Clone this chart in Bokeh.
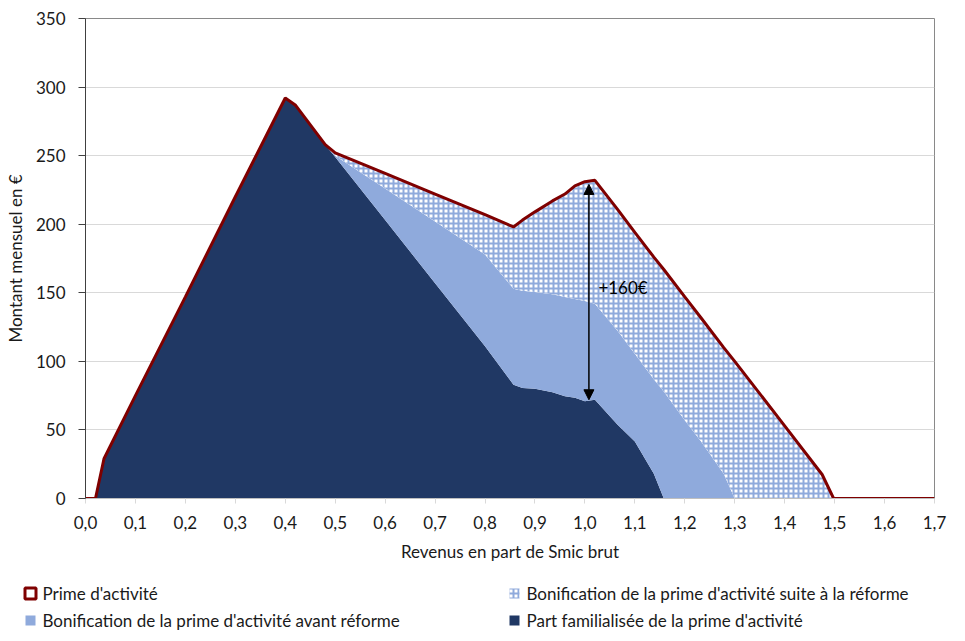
from bokeh.plotting import figure
from bokeh.layouts import column
from bokeh.models import Range1d, FixedTicker, Arrow, NormalHead, Label
from bokeh.core.properties import value
from bokeh.embed import file_html
from bokeh.resources import INLINE

# ---- data ----
revenu = [0.0, 0.02, 0.037, 0.1, 0.2, 0.3, 0.4, 0.42, 0.48, 0.5, 0.6, 0.7, 0.8, 0.857, 0.875,
          0.9, 0.935, 0.96, 0.98, 1.0, 1.02, 1.065, 1.1, 1.138, 1.158, 1.2, 1.232, 1.278,
          1.3, 1.4, 1.475, 1.498, 1.6, 1.7]
prime_activite = [0, 0, 29, 75, 147, 220, 292, 287, 258, 252, 237, 222, 207, 198, 203,
                  209, 217, 222, 228, 231, 232, 211, 194, 176, 167, 147, 132, 110,
                  100, 53, 17.5, 0, 0, 0]
avant_reforme = [0, 0, 29, 75, 147, 220, 292, 287, 258, 250, 226, 202, 178, 153, 151.5,
                 150.5, 149, 147, 145.5, 144, 142, 122.5, 105.5, 87, 78, 57, 42, 18,
                 0, 0, 0, 0, 0, 0]
part_familialisee = [0, 0, 29, 75, 147, 220, 292, 287, 258, 249, 203, 157, 111, 83, 80.5,
                     80, 77.5, 74.5, 73.5, 71, 72, 54, 41.5, 18, 0, 0, 0, 0,
                     0, 0, 0, 0, 0, 0]

x_ticks = [0.0, 0.1, 0.2, 0.3, 0.4, 0.5, 0.6, 0.7, 0.8, 0.9, 1.0, 1.1, 1.2, 1.3, 1.4, 1.5, 1.6, 1.7]
x_labels = ["0,0", "0,1", "0,2", "0,3", "0,4", "0,5", "0,6", "0,7", "0,8", "0,9",
            "1,0", "1,1", "1,2", "1,3", "1,4", "1,5", "1,6", "1,7"]
y_ticks = [0, 50, 100, 150, 200, 250, 300, 350]

legend_labels = ["Prime d'activité",
                 "Bonification de la prime d'activité suite à la réforme",
                 "Bonification de la prime d'activité avant réforme",
                 "Part familialisée de la prime d'activité"]

ecart_x = 1.008
ecart_bas = 72
ecart_haut = 229
ecart_label = "+160€"

FONT = "Lato"
FS = "17px"
TXT = "#1a1a1a"
NAVY = "#203864"
LIGHT = "#8FAADC"
RED = "#7F0000"
HATCH = dict(fill_color="white", hatch_pattern="+", hatch_color=LIGHT,
             hatch_scale=5, hatch_weight=2)

W = 957
p = figure(width=W, height=575, output_backend="svg", toolbar_location=None,
           x_range=Range1d(0, 1.7), y_range=Range1d(0, 350),
           min_border_left=85, min_border_right=23, min_border_top=18, min_border_bottom=77)
p.frame_align = False

p.outline_line_color = "#898989"
p.outline_line_width = 1
p.xgrid.grid_line_color = None
p.ygrid.grid_line_color = "#d9d9d9"
p.ygrid.ticker = FixedTicker(ticks=y_ticks)

p.varea(x=revenu, y1=0, y2=part_familialisee, fill_color=NAVY)
p.varea(x=revenu, y1=part_familialisee, y2=avant_reforme, fill_color=LIGHT)
p.varea(x=revenu, y1=avant_reforme, y2=prime_activite, **HATCH)
p.line(x=revenu, y=prime_activite, line_color=RED, line_width=3)

# axes
p.xaxis.ticker = FixedTicker(ticks=x_ticks)
p.xaxis.major_label_overrides = {t: l for t, l in zip(x_ticks, x_labels)}
p.yaxis.ticker = FixedTicker(ticks=y_ticks)
for ax in (p.xaxis[0], p.yaxis[0]):
    ax.major_label_text_font = FONT
    ax.major_label_text_font_size = FS
    ax.major_label_text_color = TXT
    ax.axis_label_text_font = FONT
    ax.axis_label_text_font_size = FS
    ax.axis_label_text_font_style = "normal"
    ax.axis_label_text_color = TXT
    ax.minor_tick_line_color = None
    ax.major_tick_in = 0

p.xaxis.axis_label = "Revenus en part de Smic brut"
p.yaxis.axis_label = "Montant mensuel en €"
p.xaxis.axis_line_color = "#bfbfbf"
p.xaxis.major_tick_line_color = "#d9d9d9"
p.xaxis.major_tick_out = 5
p.xaxis.major_label_standoff = 12
p.xaxis.axis_label_standoff = 9
p.yaxis.axis_line_color = "#404040"
p.yaxis.major_tick_line_color = "#404040"
p.yaxis.major_tick_out = 7
p.yaxis.major_label_standoff = 13
p.yaxis.axis_label_standoff = 7

# annotation
p.add_layout(Arrow(start=NormalHead(size=10, fill_color="black", line_color="black"),
                   end=NormalHead(size=10, fill_color="black", line_color="black"),
                   x_start=ecart_x, y_start=ecart_bas, x_end=ecart_x, y_end=ecart_haut,
                   line_width=1.5, line_color="black"))
p.add_layout(Label(x=1.027, y=154, text=ecart_label, text_font=FONT, text_font_size=FS,
                   text_color="black", text_baseline="middle", text_align="left"))

# ---- legend strip below the chart (pixel-based coordinates) ----
LH = 58
lf = figure(width=W, height=LH, output_backend="svg", toolbar_location=None,
            x_range=Range1d(0, W), y_range=Range1d(0, LH),
            x_axis_location=None, y_axis_location=None,
            min_border_left=0, min_border_right=0, min_border_top=0, min_border_bottom=0)
lf.frame_align = False
lf.grid.visible = False
lf.outline_line_color = None

row1, row2 = 40, 13
col1, col2 = 25, 509
box = 10
lf.quad(left=[col1 - 0.5], right=[col1 + box + 0.5], bottom=[row1 - 5.5], top=[row1 + 5.5],
        fill_color="white", line_color=RED, line_width=3)
lf.quad(left=[col2], right=[col2 + box], bottom=[row1 - 5], top=[row1 + 5],
        line_color=None, **HATCH)
lf.quad(left=[col1], right=[col1 + box], bottom=[row2 - 5], top=[row2 + 5],
        fill_color=LIGHT, line_color=None)
lf.quad(left=[col2], right=[col2 + box], bottom=[row2 - 5], top=[row2 + 5],
        fill_color=NAVY, line_color=None)
lf.text(x=[col1 + 17, col2 + 17, col1 + 17, col2 + 17], y=[row1, row1, row2, row2],
        text=legend_labels, text_font=value(FONT), text_font_size=FS,
        text_color=TXT, text_baseline="middle", text_align="left")

layout = column(p, lf, spacing=0)
open("out.html", "w").write(file_html(layout, INLINE))
